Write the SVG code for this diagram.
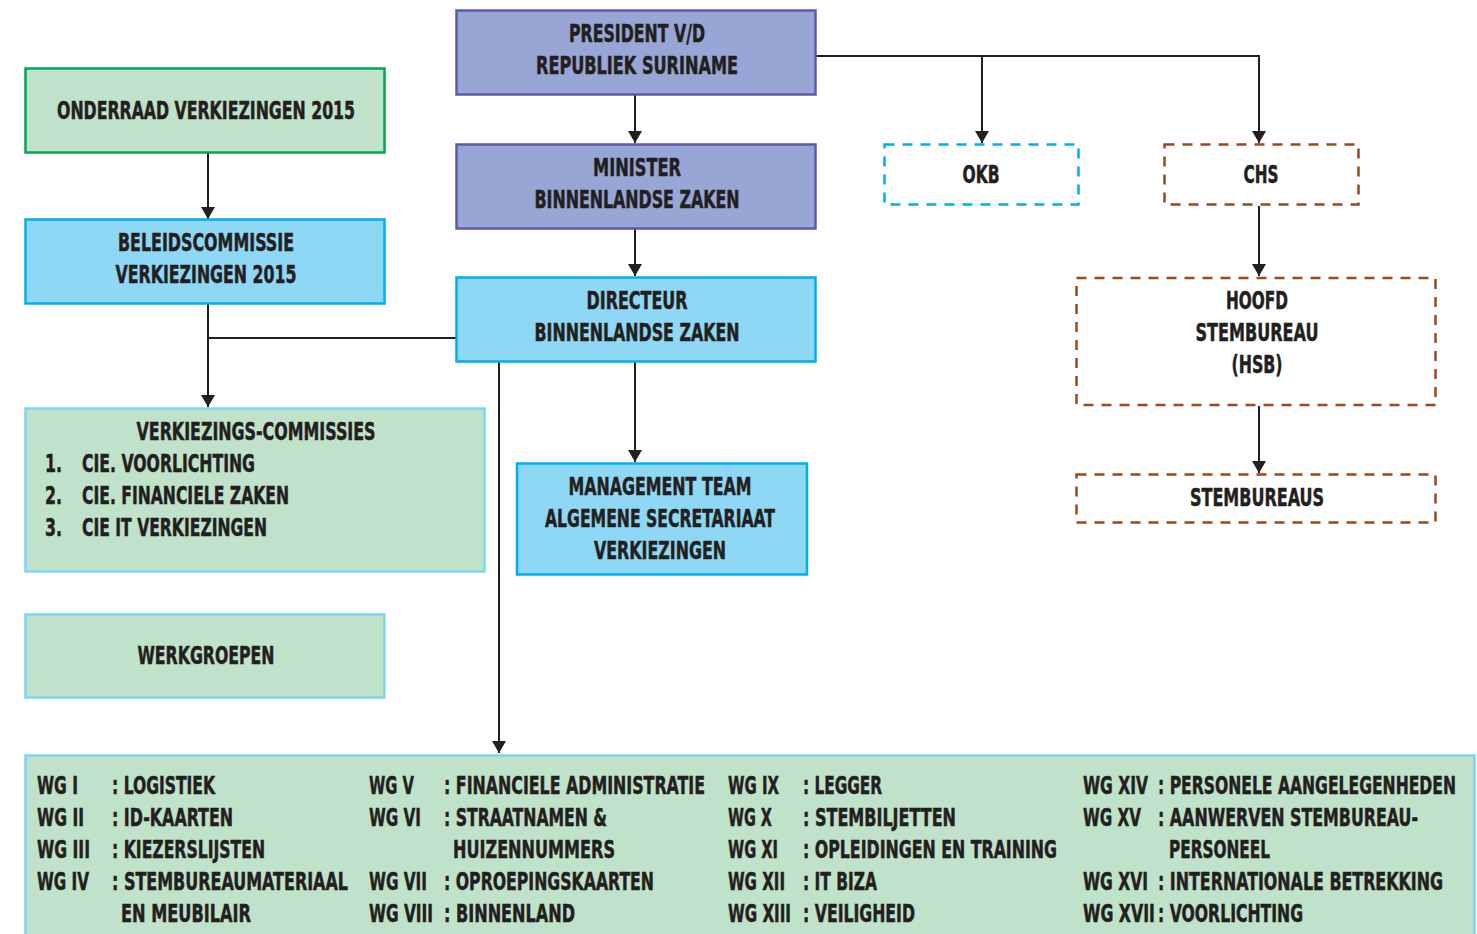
<svg xmlns="http://www.w3.org/2000/svg" width="1477" height="934" viewBox="0 0 1477 934">
<defs>
<style>
text{font-family:"Liberation Sans Narrow","DejaVu Sans Condensed","Liberation Sans",sans-serif;font-weight:bold;font-size:24px;fill:#231f20;stroke:#231f20;stroke-width:0.5}
.c{text-anchor:middle}
.purple{fill:#98a6d5;stroke:#6158a8;stroke-width:2.5}
.blue{fill:#8ed8f6;stroke:#00aeef;stroke-width:2.5}
.green{fill:#c0e2ca;stroke:#00a651;stroke-width:2.5}
.greenb{fill:#c0e2ca;stroke:#7fd3f3;stroke-width:2.5}
.dblue{fill:none;stroke:#00aeef;stroke-width:2.5;stroke-dasharray:10 8}
.dbrown{fill:none;stroke:#9b4a1e;stroke-width:2.5;stroke-dasharray:10 8}
.conn line{stroke:#231f20;stroke-width:2}
</style>
<marker id="ah" viewBox="0 0 12 14" markerUnits="userSpaceOnUse" markerWidth="12" markerHeight="14" refX="12" refY="7" orient="auto">
<path d="M0,0 L12,7 L0,14 z" fill="#231f20"/>
</marker>
</defs>
<rect width="1477" height="934" fill="#ffffff"/>

<g id="connectors" class="conn">
<line x1="208" y1="153" x2="208" y2="219" marker-end="url(#ah)"/>
<line x1="635" y1="95" x2="635" y2="143" marker-end="url(#ah)"/>
<line x1="635" y1="229" x2="635" y2="276" marker-end="url(#ah)"/>
<line x1="635" y1="362" x2="635" y2="462" marker-end="url(#ah)"/>
<line x1="816" y1="56" x2="1259" y2="56"/>
<line x1="982" y1="56" x2="982" y2="143" marker-end="url(#ah)"/>
<line x1="1259" y1="55" x2="1259" y2="143" marker-end="url(#ah)"/>
<line x1="1259" y1="206" x2="1259" y2="276" marker-end="url(#ah)"/>
<line x1="1259" y1="406" x2="1259" y2="473" marker-end="url(#ah)"/>
<line x1="208" y1="304" x2="208" y2="407" marker-end="url(#ah)"/>
<line x1="208" y1="338" x2="456" y2="338"/>
<line x1="499" y1="362" x2="499" y2="753" marker-end="url(#ah)"/>
</g>

<g id="onderraad">
<rect class="green" x="25.5" y="68.5" width="359" height="84"/>
<text class="c" x="206" y="119" textLength="298" lengthAdjust="spacingAndGlyphs">ONDERRAAD VERKIEZINGEN 2015</text>
</g>

<g id="beleidscommissie">
<rect class="blue" x="25.5" y="219.5" width="359" height="84"/>
<text class="c" x="206" y="251" textLength="176" lengthAdjust="spacingAndGlyphs">BELEIDSCOMMISSIE</text>
<text class="c" x="206" y="283" textLength="181" lengthAdjust="spacingAndGlyphs">VERKIEZINGEN 2015</text>
</g>

<g id="verkiezingscommissies">
<rect class="greenb" x="25.5" y="408.5" width="459" height="163"/>
<text class="c" x="256" y="440" textLength="239" lengthAdjust="spacingAndGlyphs">VERKIEZINGS-COMMISSIES</text>
<text x="45" y="472" textLength="17" lengthAdjust="spacingAndGlyphs">1.</text>
<text x="82" y="472" textLength="173" lengthAdjust="spacingAndGlyphs">CIE. VOORLICHTING</text>
<text x="45" y="504" textLength="17" lengthAdjust="spacingAndGlyphs">2.</text>
<text x="82" y="504" textLength="207" lengthAdjust="spacingAndGlyphs">CIE. FINANCIELE ZAKEN</text>
<text x="45" y="536" textLength="17" lengthAdjust="spacingAndGlyphs">3.</text>
<text x="82" y="536" textLength="185" lengthAdjust="spacingAndGlyphs">CIE IT VERKIEZINGEN</text>
</g>

<g id="werkgroepen">
<rect class="greenb" x="25.5" y="614.5" width="359" height="83"/>
<text class="c" x="206" y="664" textLength="137" lengthAdjust="spacingAndGlyphs">WERKGROEPEN</text>
</g>

<g id="president">
<rect class="purple" x="456.5" y="10.5" width="359" height="84"/>
<text class="c" x="637" y="42" textLength="136" lengthAdjust="spacingAndGlyphs">PRESIDENT V/D</text>
<text class="c" x="637" y="74" textLength="202" lengthAdjust="spacingAndGlyphs">REPUBLIEK SURINAME</text>
</g>

<g id="minister">
<rect class="purple" x="456.5" y="144.5" width="359" height="84"/>
<text class="c" x="637" y="176" textLength="88" lengthAdjust="spacingAndGlyphs">MINISTER</text>
<text class="c" x="637" y="208" textLength="205" lengthAdjust="spacingAndGlyphs">BINNENLANDSE ZAKEN</text>
</g>

<g id="directeur">
<rect class="blue" x="456.5" y="277.5" width="359" height="84"/>
<text class="c" x="637" y="309" textLength="101" lengthAdjust="spacingAndGlyphs">DIRECTEUR</text>
<text class="c" x="637" y="341" textLength="205" lengthAdjust="spacingAndGlyphs">BINNENLANDSE ZAKEN</text>
</g>

<g id="managementteam">
<rect class="blue" x="517" y="463.5" width="290" height="111"/>
<text class="c" x="660" y="495" textLength="183" lengthAdjust="spacingAndGlyphs">MANAGEMENT TEAM</text>
<text class="c" x="660" y="527" textLength="230" lengthAdjust="spacingAndGlyphs">ALGEMENE SECRETARIAAT</text>
<text class="c" x="660" y="559" textLength="132" lengthAdjust="spacingAndGlyphs">VERKIEZINGEN</text>
</g>

<g id="okb">
<rect class="dblue" x="884.5" y="144.5" width="194" height="60"/>
<text class="c" x="981" y="183" textLength="37" lengthAdjust="spacingAndGlyphs">OKB</text>
</g>

<g id="chs">
<rect class="dbrown" x="1164.5" y="144.5" width="194" height="60"/>
<text class="c" x="1261" y="183" textLength="35" lengthAdjust="spacingAndGlyphs">CHS</text>
</g>

<g id="hoofdstembureau">
<rect class="dbrown" x="1076.5" y="278" width="359" height="127"/>
<text class="c" x="1257" y="309" textLength="62" lengthAdjust="spacingAndGlyphs">HOOFD</text>
<text class="c" x="1257" y="341" textLength="123" lengthAdjust="spacingAndGlyphs">STEMBUREAU</text>
<text class="c" x="1257" y="373" textLength="51" lengthAdjust="spacingAndGlyphs">(HSB)</text>
</g>

<g id="stembureaus">
<rect class="dbrown" x="1076.5" y="474.5" width="359" height="48"/>
<text class="c" x="1257" y="506" textLength="134" lengthAdjust="spacingAndGlyphs">STEMBUREAUS</text>
</g>

<g id="werkgroepenlijst">
<rect class="greenb" x="25.5" y="755.5" width="1449" height="190"/>
<text x="37" y="794" textLength="41" lengthAdjust="spacingAndGlyphs">WG I</text>
<text x="112" y="794" textLength="103" lengthAdjust="spacingAndGlyphs">: LOGISTIEK</text>
<text x="37" y="826" textLength="47" lengthAdjust="spacingAndGlyphs">WG II</text>
<text x="112" y="826" textLength="121" lengthAdjust="spacingAndGlyphs">: ID-KAARTEN</text>
<text x="37" y="858" textLength="53" lengthAdjust="spacingAndGlyphs">WG III</text>
<text x="112" y="858" textLength="153" lengthAdjust="spacingAndGlyphs">: KIEZERSLIJSTEN</text>
<text x="37" y="890" textLength="52" lengthAdjust="spacingAndGlyphs">WG IV</text>
<text x="112" y="890" textLength="236" lengthAdjust="spacingAndGlyphs">: STEMBUREAUMATERIAAL</text>
<text x="121" y="922" textLength="130" lengthAdjust="spacingAndGlyphs">EN MEUBILAIR</text>

<text x="369" y="794" textLength="45" lengthAdjust="spacingAndGlyphs">WG V</text>
<text x="444" y="794" textLength="261" lengthAdjust="spacingAndGlyphs">: FINANCIELE ADMINISTRATIE</text>
<text x="369" y="826" textLength="52" lengthAdjust="spacingAndGlyphs">WG VI</text>
<text x="444" y="826" textLength="163" lengthAdjust="spacingAndGlyphs">: STRAATNAMEN &amp;</text>
<text x="453" y="858" textLength="162" lengthAdjust="spacingAndGlyphs">HUIZENNUMMERS</text>
<text x="369" y="890" textLength="58" lengthAdjust="spacingAndGlyphs">WG VII</text>
<text x="444" y="890" textLength="210" lengthAdjust="spacingAndGlyphs">: OPROEPINGSKAARTEN</text>
<text x="369" y="922" textLength="64" lengthAdjust="spacingAndGlyphs">WG VIII</text>
<text x="444" y="922" textLength="131" lengthAdjust="spacingAndGlyphs">: BINNENLAND</text>

<text x="728" y="794" textLength="51" lengthAdjust="spacingAndGlyphs">WG IX</text>
<text x="803" y="794" textLength="79" lengthAdjust="spacingAndGlyphs">: LEGGER</text>
<text x="728" y="826" textLength="44" lengthAdjust="spacingAndGlyphs">WG X</text>
<text x="803" y="826" textLength="153" lengthAdjust="spacingAndGlyphs">: STEMBILJETTEN</text>
<text x="728" y="858" textLength="50" lengthAdjust="spacingAndGlyphs">WG XI</text>
<text x="803" y="858" textLength="254" lengthAdjust="spacingAndGlyphs">: OPLEIDINGEN EN TRAINING</text>
<text x="728" y="890" textLength="57" lengthAdjust="spacingAndGlyphs">WG XII</text>
<text x="803" y="890" textLength="74" lengthAdjust="spacingAndGlyphs">: IT BIZA</text>
<text x="728" y="922" textLength="63" lengthAdjust="spacingAndGlyphs">WG XIII</text>
<text x="803" y="922" textLength="112" lengthAdjust="spacingAndGlyphs">: VEILIGHEID</text>

<text x="1083" y="794" textLength="65" lengthAdjust="spacingAndGlyphs">WG XIV</text>
<text x="1158" y="794" textLength="298" lengthAdjust="spacingAndGlyphs">: PERSONELE AANGELEGENHEDEN</text>
<text x="1083" y="826" textLength="58" lengthAdjust="spacingAndGlyphs">WG XV</text>
<text x="1158" y="826" textLength="260" lengthAdjust="spacingAndGlyphs">: AANWERVEN STEMBUREAU-</text>
<text x="1169" y="858" textLength="101" lengthAdjust="spacingAndGlyphs">PERSONEEL</text>
<text x="1083" y="890" textLength="65" lengthAdjust="spacingAndGlyphs">WG XVI</text>
<text x="1158" y="890" textLength="285" lengthAdjust="spacingAndGlyphs">: INTERNATIONALE BETREKKING</text>
<text x="1083" y="922" textLength="72" lengthAdjust="spacingAndGlyphs">WG XVII</text>
<text x="1158" y="922" textLength="145" lengthAdjust="spacingAndGlyphs">: VOORLICHTING</text>
</g>
</svg>
